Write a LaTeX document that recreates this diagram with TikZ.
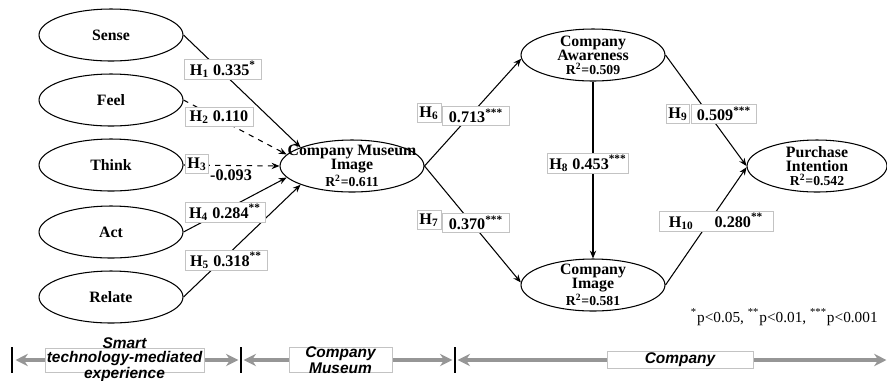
\documentclass[tikz,border=0pt]{standalone}
\usepackage{fontspec}
\setmainfont{Liberation Serif}
\newfontfamily\barfont{Liberation Sans}
\usetikzlibrary{shapes.geometric, arrows.meta}

\definecolor{bargray}{RGB}{150,150,150}
\definecolor{boxgray}{RGB}{195,195,195}
\newcommand{\rsq}[1]{{\fontsize{7.8}{7.9}\selectfont R\textsuperscript{2}=#1}}

\tikzset{
	construct/.style={ellipse, draw, line width=0.6pt, minimum width=2.88cm, minimum height=1.04cm, inner sep=0pt},
	cname/.style={align=center, inner sep=0pt, font=\fontsize{9}{7.9}\selectfont\bfseries},
	effect/.style={line width=0.6pt, -{Stealth[length=4.5pt,width=3.6pt]}},
	weak/.style={effect, dashed},
	coef/.style={draw=boxgray, fill=white, inner sep=1pt, minimum height=0.37cm, font=\fontsize{9.2}{10}\selectfont\bfseries},
	stagebox/.style={draw=boxgray, fill=white, inner sep=0pt},
	stagetext/.style={align=center, inner sep=0pt, font=\barfont\bfseries\itshape\fontsize{8.8}{7.8}\selectfont},
	stagebar/.style={draw=bargray, line width=2.3pt, {Stealth[length=7pt,width=7pt]}-{Stealth[length=7pt,width=7pt]}},
	divider/.style={line width=1pt}
}

\begin{document}
\begin{tikzpicture}[x=0.02cm, y=-0.02cm]
	\useasboundingbox (0,0) rectangle (887,380);

	% Experience
		\node[construct, label={[cname]center:Sense}] (sense) at (111,35) {};
		\node[construct, label={[cname]center:Feel}] (feel) at (111,100) {};
		\node[construct, label={[cname]center:Think}] (think) at (111,165) {};
		\node[construct, label={[cname]center:Act}] (act) at (111,232) {};
		\node[construct, label={[cname]center:Relate}] (relate) at (111,297) {};

	% Museum and company
		\node[construct, label={[cname]center:Company Museum\\Image\\\rsq{0.611}}] (cmi) at (352,166) {};
		\node[construct, label={[cname]center:Company\\Awareness\\\rsq{0.509}}] (ca) at (593,55) {};
		\node[construct, label={[cname]center:Company\\Image\\\rsq{0.581}}] (ci) at (593,285) {};
		\node[construct, minimum width=2.8cm, label={[cname]center:Purchase\\Intention\\\rsq{0.542}}] (pi) at (817,166) {};

	% Paths
		\draw[effect] (sense.east) -- (cmi.160);
		\draw[weak] (feel.east) -- (cmi.170);
		\draw[weak] (think.east) -- (cmi.west);
		\draw[effect] (act.east) -- (cmi.190);
		\draw[effect] (relate.east) -- (cmi.200);
		\draw[effect] (cmi.east) -- (ca.183);
		\draw[effect] (cmi.east) -- (ci.178);
		\draw[effect] (ca.south) -- (ci.north);
		\draw[effect] (ca.east) -- (pi.west);
		\draw[effect] (ci.east) -- (pi.181);

	% Coefficients
		\node[coef, minimum width=1.54cm] (h1) at (223,69) {H\textsubscript{1} 0.335\textsuperscript{*}};
		\node[coef, minimum width=1.36cm] (h2) at (219,117) {H\textsubscript{2} 0.110};
		\node[coef, minimum width=0.46cm] (h3) at (197,164) {H\textsubscript{3}};
		\node[inner sep=0pt, font=\fontsize{9.2}{10}\selectfont\bfseries] (b3) at (231,175) {-0.093};
		\node[coef, minimum width=1.6cm] (h4) at (225,212) {H\textsubscript{4} 0.284\textsuperscript{**}};
		\node[coef, minimum width=1.64cm] (h5) at (226,260) {H\textsubscript{5} 0.318\textsuperscript{**}};
		\node[coef, minimum width=0.48cm] (h6) at (429,113) {H\textsubscript{6}};
		\node[coef, minimum width=1.34cm] (b6) at (476,116) {0.713\textsuperscript{***}};
		\node[coef, minimum width=0.48cm] (h7) at (429,220) {H\textsubscript{7}};
		\node[coef, minimum width=1.34cm] (b7) at (476,223) {0.370\textsuperscript{***}};
		\node[coef, minimum width=1.52cm] (h8) at (588,163) {H\textsubscript{8} 0.453\textsuperscript{***}};
		\node[coef, minimum width=0.46cm] (h9) at (678,114) {H\textsubscript{9}};
		\node[coef, minimum width=1.3cm] (b9) at (724,114) {0.509\textsuperscript{***}};
		\node[coef, minimum width=2.28cm] (h10) at (716,221) {H\textsubscript{10}\hspace{12pt}0.280\textsuperscript{**}\hspace{10pt}};

		\node[anchor=east, inner sep=0pt, font=\fontsize{8.7}{10}\selectfont] (pval) at (878,317)
			{\textsuperscript{*}p<0.05,\ \textsuperscript{**}p<0.01,\ \textsuperscript{***}p<0.001};

	% Stages
		\coordinate (t1) at (12,360);
		\coordinate (t2) at (241,360);
		\coordinate (t3) at (455,360);
		\coordinate (tend) at (887,360);

		\draw[divider] (12,347) -- (12,373);
		\draw[divider] (241,347) -- (241,373);
		\draw[divider] (455,347) -- (455,373);

		\draw[stagebar, shorten <=2pt, shorten >=1.5pt] (t1) -- (t2);
		\draw[stagebar, shorten <=1.5pt, shorten >=1.5pt] (t2) -- (t3);
		\draw[stagebar, shorten <=1.5pt, shorten >=0.3pt] (t3) -- (tend);

		\node[stagebox, minimum width=3.18cm, minimum height=0.48cm,
			label={[stagetext]center:Smart\\technology-mediated\\experience}] (s1) at (124.5,360) {};
		\node[stagebox, minimum width=2.06cm, minimum height=0.5cm,
			label={[stagetext]center:Company\\Museum}] (s2) at (340.5,360) {};
		\node[stagebox, minimum width=2.92cm, minimum height=0.34cm,
			label={[stagetext]center:Company}] (s3) at (680,359.5) {};
\end{tikzpicture}
\end{document}
